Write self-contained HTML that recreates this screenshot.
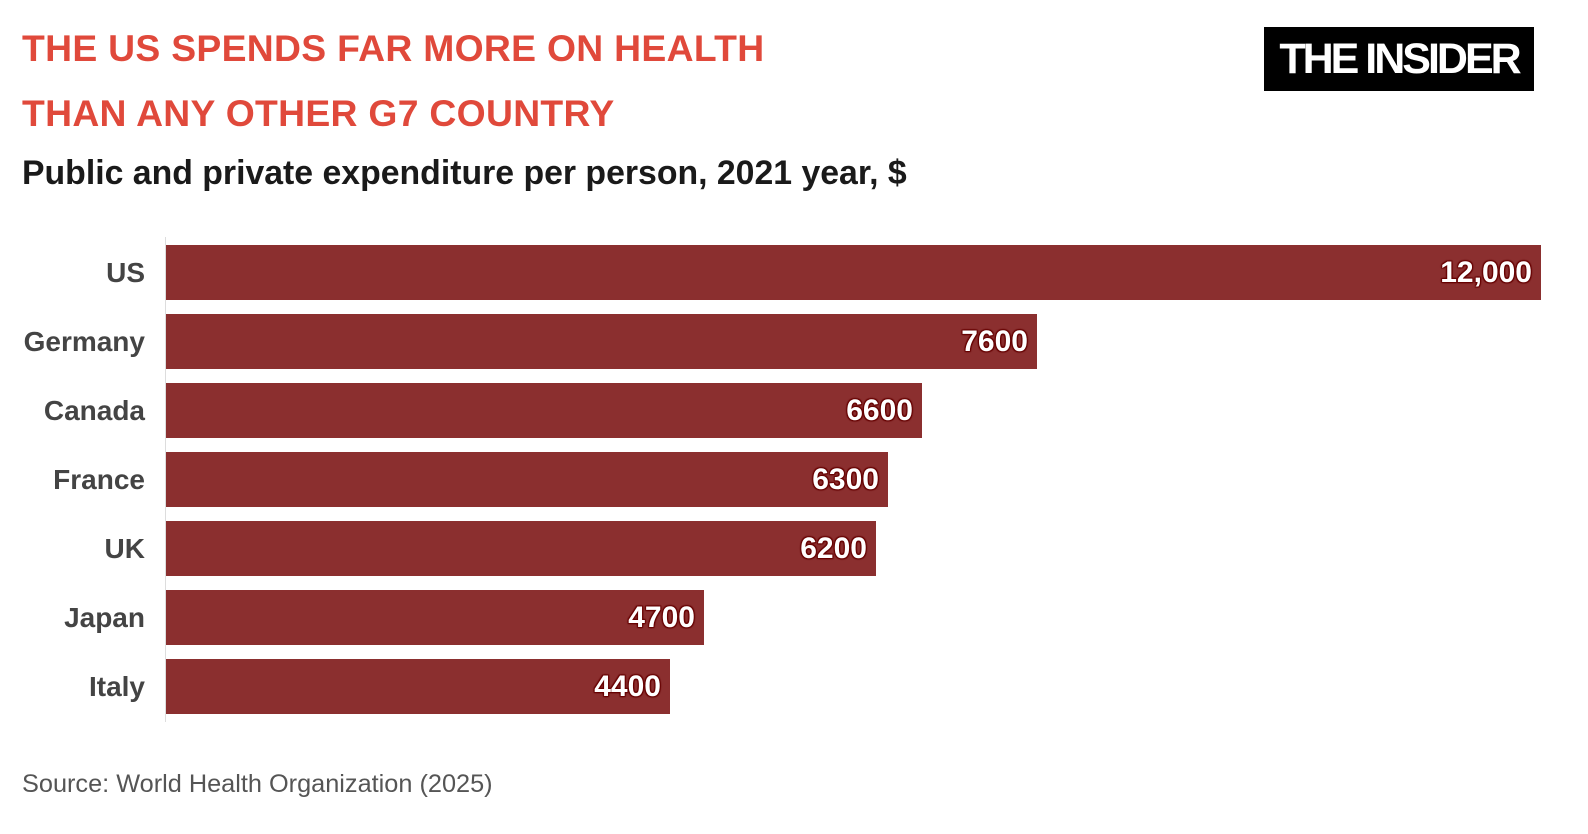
<!DOCTYPE html>
<html><head><meta charset="utf-8"><style>
body{margin:0;width:1588px;height:834px;background:#fff;position:relative;overflow:hidden;font-family:"Liberation Sans",sans-serif}
.t{position:absolute;left:22px;color:#e0493b;font-weight:bold;font-size:37.3px;letter-spacing:0.3px;white-space:nowrap}
.sub{position:absolute;left:22px;top:154px;font-weight:bold;font-size:33.8px;color:#1a1a1a;white-space:nowrap}
.logo{position:absolute;left:1264px;top:27px;width:270px;height:64px;background:#000;color:#fff;font-weight:bold;font-size:43px;letter-spacing:-3px;line-height:64px;text-align:center}
.axis{position:absolute;left:165px;top:237px;width:1px;height:485px;background:#ddd}
.bar{position:absolute;left:166px;height:55px;background:#8b2f2f}
.lab{position:absolute;right:1443px;font-weight:bold;font-size:28px;color:#444;line-height:55px;white-space:nowrap}
.val{position:absolute;font-weight:bold;font-size:30px;color:#fff;line-height:55px;text-shadow:0 0 2px #600,1px 1px 1px #600,-1px -1px 1px #600,1px -1px 1px #600,-1px 1px 1px #600;white-space:nowrap}
.src{position:absolute;left:22px;top:770px;font-size:25.3px;color:#555}
</style></head><body>
<div class="t" style="top:27px">THE US SPENDS FAR MORE ON HEALTH</div>
<div class="t" style="top:92px">THAN ANY OTHER G7 COUNTRY</div>
<div class="sub">Public and private expenditure per person, 2021 year, $</div>
<div class="logo">THE INSIDER</div>
<div class="axis"></div>

<div class="lab" style="top:245px">US</div><div class="bar" style="top:245px;width:1375px"></div><div class="val" style="top:245px;right:56px">12,000</div>
<div class="lab" style="top:314px">Germany</div><div class="bar" style="top:314px;width:871px"></div><div class="val" style="top:314px;right:560px">7600</div>
<div class="lab" style="top:383px">Canada</div><div class="bar" style="top:383px;width:756px"></div><div class="val" style="top:383px;right:675px">6600</div>
<div class="lab" style="top:452px">France</div><div class="bar" style="top:452px;width:722px"></div><div class="val" style="top:452px;right:709px">6300</div>
<div class="lab" style="top:521px">UK</div><div class="bar" style="top:521px;width:710px"></div><div class="val" style="top:521px;right:721px">6200</div>
<div class="lab" style="top:590px">Japan</div><div class="bar" style="top:590px;width:538px"></div><div class="val" style="top:590px;right:893px">4700</div>
<div class="lab" style="top:659px">Italy</div><div class="bar" style="top:659px;width:504px"></div><div class="val" style="top:659px;right:927px">4400</div>

<div class="src">Source: World Health Organization (2025)</div>
</body></html>
